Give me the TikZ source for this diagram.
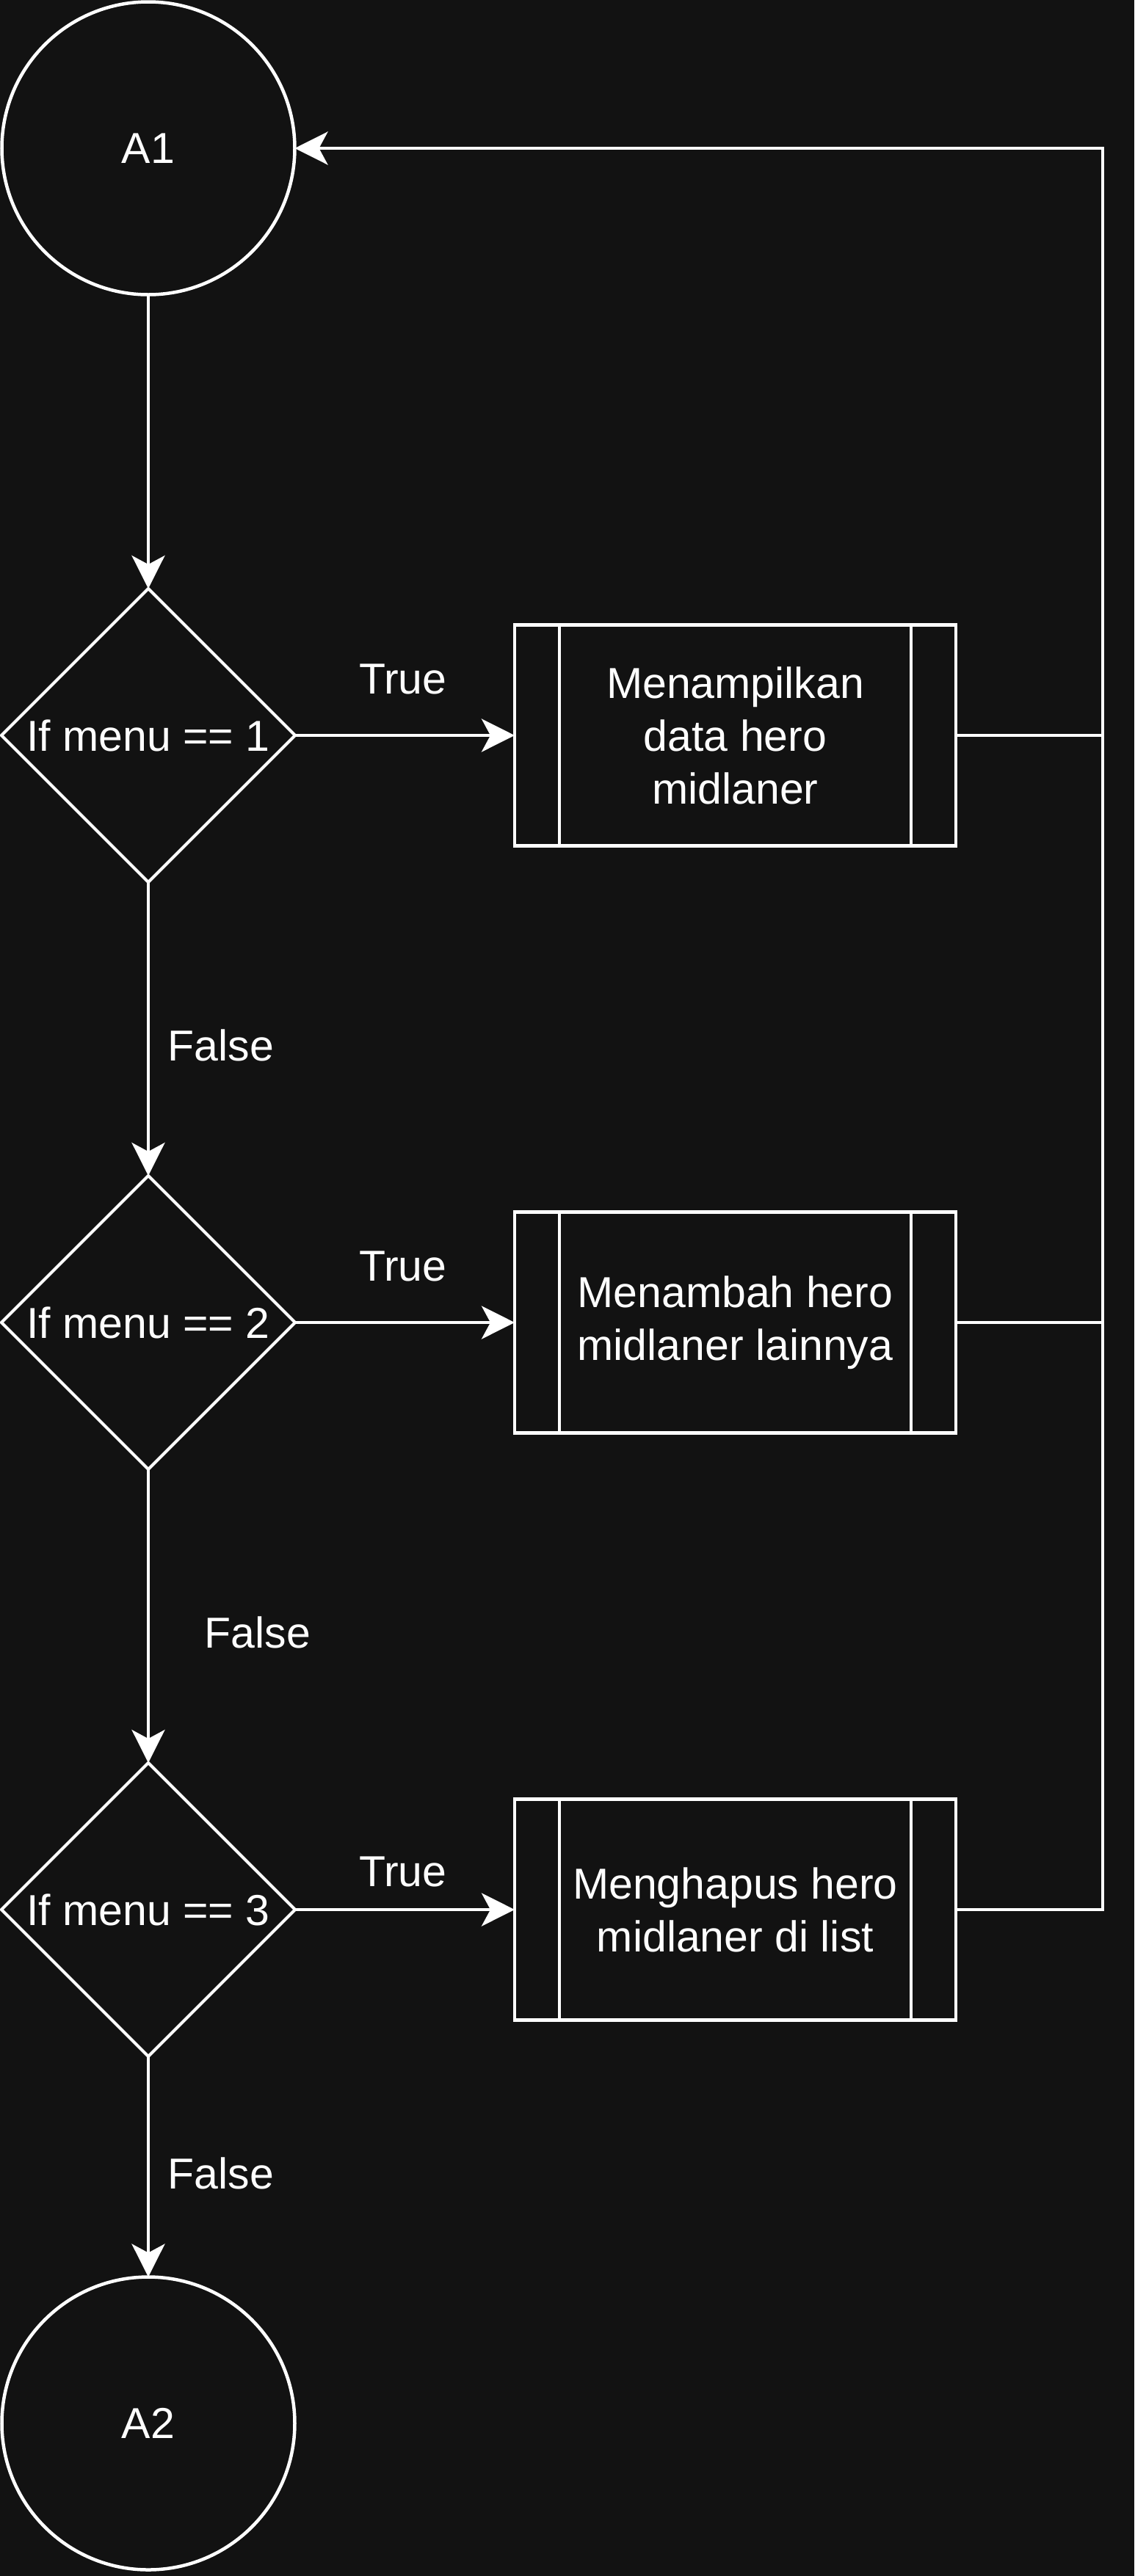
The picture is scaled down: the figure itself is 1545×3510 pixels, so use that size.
\documentclass[tikz,border=0pt]{standalone}
\usepackage{fontspec}
\setmainfont{Liberation Sans}
\usetikzlibrary{shapes.geometric,arrows.meta}
\definecolor{bgc}{HTML}{121212}
\begin{document}
\begin{tikzpicture}[x=1pt,y=-1pt,
  every node/.style={text=white, font=\fontsize{59}{72}\selectfont},
  term/.style={circle, draw=white, line width=4.5pt, minimum size=399pt, inner sep=0pt, outer sep=0pt},
  decision/.style={diamond, draw=white, line width=4pt, minimum width=400pt, minimum height=400pt, inner sep=0pt, outer sep=0pt},
  process/.style={rectangle, draw=white, line width=4.5pt, minimum width=601pt, minimum height=301pt, inner sep=0pt, outer sep=0pt, align=center},
  conn/.style={draw=white, line width=4.5pt},
  arr/.style={conn, -{Stealth[length=45pt,width=45pt,inset=12pt]}},
  lbl/.style={anchor=base, inner sep=0pt}
]
\fill[bgc] (0,0) rectangle (1545,3510);
\useasboundingbox (0,0) rectangle (1545,3510);

\node[term] (A1) at (202,202) {A1};
\node[decision] (d1) at (202,1002) {If menu == 1};
\node[decision] (d2) at (202,1802) {If menu == 2};
\node[decision] (d3) at (202,2602) {If menu == 3};
\node[term] (A2) at (202,3302) {A2};

\node[process] (b1) at (1001.5,1002) {Menampilkan\\data hero\\midlaner};
\node[process] (b2) at (1001.5,1802) {Menambah hero\\midlaner lainnya};
\node[process] (b3) at (1001.5,2602) {Menghapus hero\\midlaner di list};

\foreach \b in {b1,b2,b3}{
  \draw[conn] ([xshift=61pt]\b.north west) -- ([xshift=61pt]\b.south west);
  \draw[conn] ([xshift=-61pt]\b.north east) -- ([xshift=-61pt]\b.south east);
}

\coordinate (R) at (1502,0);

\draw[arr] (A1.south) -- (d1.north);
\draw[arr] (d1.east) -- (b1.west);
\draw[arr] (d1.south) -- (d2.north);
\draw[arr] (d2.east) -- (b2.west);
\draw[arr] (d2.south) -- (d3.north);
\draw[arr] (d3.east) -- (b3.west);
\draw[arr] (d3.south) -- (A2.north);

\draw[conn] (b1.east) -- (R |- b1.east);
\draw[conn] (b2.east) -- (R |- b2.east);
\draw[arr] (b3.east) -- (R |- b3.east) -- (R |- A1.east) -- (A1.east);

\node[lbl] (t1) at (549,945) {True};
\node[lbl] (t2) at (549,1745) {True};
\node[lbl] (t3) at (549,2570) {True};
\node[lbl] (f1) at (301,1445) {False};
\node[lbl] (f2) at (351,2245) {False};
\node[lbl] (f3) at (301,2982) {False};
\end{tikzpicture}
\end{document}
